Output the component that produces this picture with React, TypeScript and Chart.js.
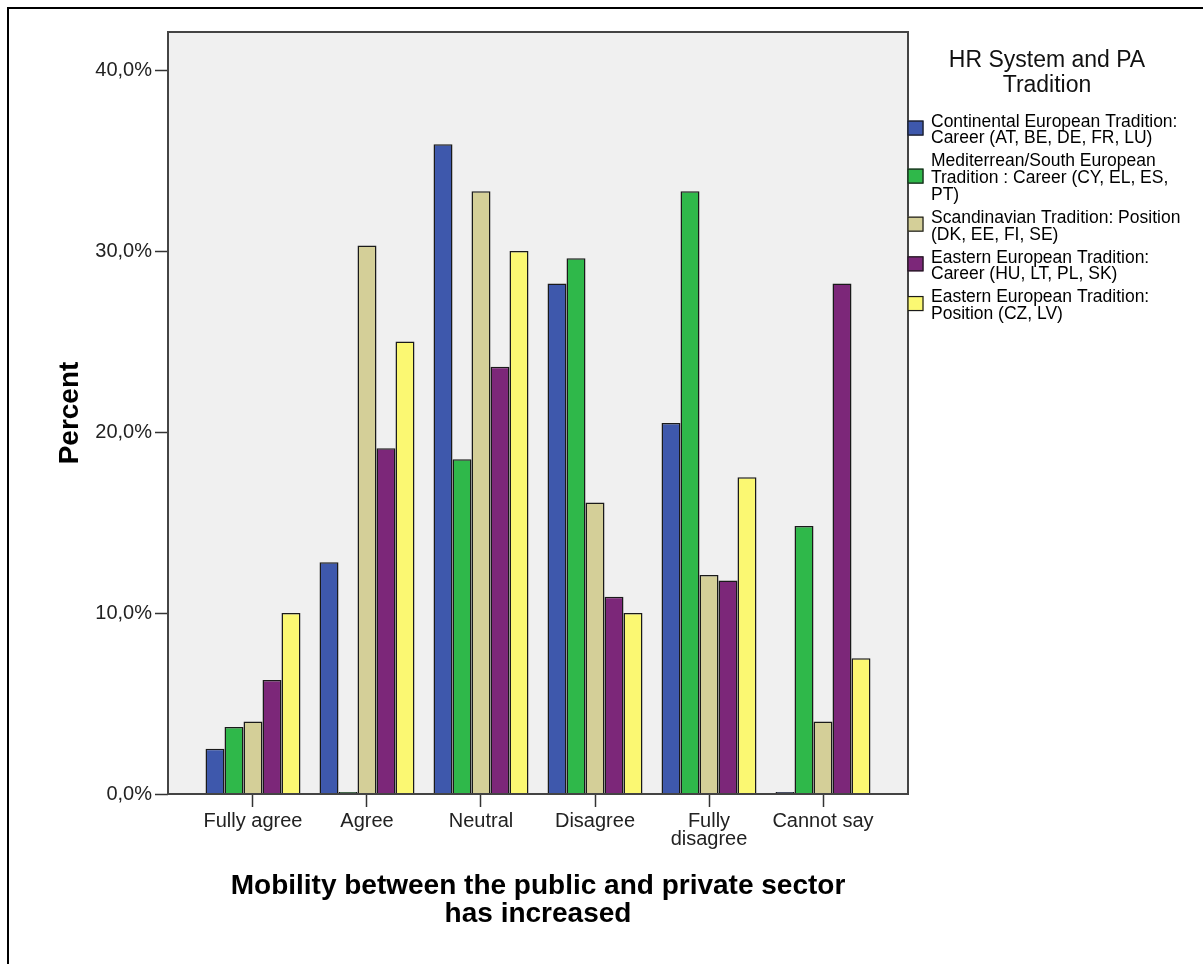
import React, { useEffect, useRef } from 'react';
import { Chart, registerables, CategoryScale } from 'chart.js';

Chart.register(...registerables);

class PaddedCategoryScale extends (CategoryScale as any) {
  static id = 'paddedCategory';
  static defaults = (CategoryScale as any).defaults;
  buildTicks() {
    const t = super.buildTicks();
    const pad = (this as any).options.edgePad || 0;
    (this as any)._startValue -= pad;
    (this as any)._valueRange += 2 * pad;
    return t;
  }
}
Chart.register(PaddedCategoryScale as any);

const FONT = '"Liberation Sans", Arial, sans-serif';

// ---- data ----
const categories: (string | string[])[] = [
  'Fully agree',
  'Agree',
  'Neutral',
  'Disagree',
  ['Fully', 'disagree'],
  'Cannot say',
];

const continentalCareer = [2.5, 12.8, 35.9, 28.2, 20.5, 0];
const mediterraneanCareer = [3.7, 0, 18.5, 29.6, 33.3, 14.8];
const scandinavianPosition = [4.0, 30.3, 33.3, 16.1, 12.1, 4.0];
const easternCareer = [6.3, 19.1, 23.6, 10.9, 11.8, 28.2];
const easternPosition = [10.0, 25.0, 30.0, 10.0, 17.5, 7.5];

const seriesLabels: string[][] = [
  ['Continental European Tradition:', 'Career (AT, BE, DE, FR, LU)'],
  ['Mediterrean/South European', 'Tradition : Career (CY, EL, ES,', 'PT)'],
  ['Scandinavian Tradition: Position', '(DK, EE, FI, SE)'],
  ['Eastern European Tradition:', 'Career (HU, LT, PL, SK)'],
  ['Eastern European Tradition:', 'Position (CZ, LV)'],
];
const seriesValues = [
  continentalCareer,
  mediterraneanCareer,
  scandinavianPosition,
  easternCareer,
  easternPosition,
];
const seriesColors = ['#3e58ac', '#2fb84a', '#d4cf98', '#7c2779', '#fbf872'];

const yTicks = [0, 10, 20, 30, 40];
const yMax = 42.1;
const legendTitle = ['HR System and PA', 'Tradition'];
const xTitle = ['Mobility between the public and private sector', 'has increased'];
const yTitle = 'Percent';

const decorPlugin = {
  id: 'decor',
  beforeDraw(chart: any) {
    const { ctx, chartArea: a } = chart;
    ctx.save();
    ctx.fillStyle = '#ffffff';
    ctx.fillRect(0, 0, chart.width, chart.height);
    ctx.fillStyle = '#f0f0f0';
    ctx.fillRect(a.left, a.top, a.right - a.left, a.bottom - a.top);
    ctx.restore();
  },
  afterDatasetsDraw(chart: any) {
    const { ctx, chartArea: a } = chart;
    ctx.save();
    ctx.strokeStyle = '#444444';
    ctx.lineWidth = 2;
    ctx.strokeRect(a.left, a.top, a.right - a.left, a.bottom - a.top);
    ctx.restore();
  },
  afterDraw(chart: any) {
    const { ctx, chartArea: a } = chart;
    ctx.save();
    // outer frame
    ctx.fillStyle = '#000';
    ctx.fillRect(7, 7, 2, chart.height - 7);
    ctx.fillRect(7, 7, chart.width - 7, 2);

    // legend title
    const cx = a.right + 139;
    ctx.fillStyle = '#111';
    ctx.font = `23px ${FONT}`;
    ctx.textAlign = 'center';
    ctx.textBaseline = 'alphabetic';
    ctx.fillText(legendTitle[0], cx, 66.7);
    ctx.fillText(legendTitle[1], cx, 91.7);

    // legend items
    const LH = 16.7;
    const GAP = 6.3;
    const textX = a.right + 23;
    const boxX = a.right - 0.5;
    let base = 126.7;
    ctx.textAlign = 'left';
    ctx.font = `17.5px ${FONT}`;
    chart.data.datasets.forEach((ds: any, i: number) => {
      const lines: string[] = seriesLabels[i];
      ctx.fillStyle = '#000';
      lines.forEach((ln, j) => ctx.fillText(ln, textX, base + j * LH));
      const last = base + (lines.length - 1) * LH;
      const cy = (base + last) / 2 - 7;
      ctx.fillStyle = ds.backgroundColor;
      ctx.fillRect(boxX, cy - 7.5, 16, 15);
      ctx.strokeStyle = '#1a1a1a';
      ctx.lineWidth = 1.2;
      ctx.strokeRect(boxX + 0.5, cy - 7, 15, 14);
      base += lines.length * LH + GAP;
    });
    ctx.restore();
  },
};

export default function App() {
  const ref = useRef<HTMLCanvasElement | null>(null);

  useEffect(() => {
    document.body.style.margin = '0';
    const canvas = ref.current;
    if (!canvas) return;
    const chart = new Chart(canvas, {
      type: 'bar',
      data: {
        labels: categories as any,
        datasets: seriesValues.map((vals, i) => ({
          label: seriesLabels[i].join(' '),
          data: vals,
          backgroundColor: seriesColors[i],
          borderColor: '#1a1a1a',
          borderWidth: 1.5,
          minBarLength: 2,
        })),
      },
      options: {
        responsive: false,
        animation: false,
        devicePixelRatio: 1,
        layout: { padding: { left: 0, top: 32, right: 295, bottom: 0 } },
        categoryPercentage: 0.833,
        barPercentage: 1.0,
        plugins: {
          legend: { display: false },
          tooltip: { enabled: false },
          title: { display: false },
        },
        scales: {
          x: {
            type: 'paddedCategory' as any,
            edgePad: 0.2456,
            offset: true,
            border: { display: false },
            grid: {
              display: true,
              offset: false,
              drawOnChartArea: false,
              drawTicks: true,
              tickLength: 13,
              tickColor: '#333',
              tickWidth: 1.5,
            },
            ticks: {
              autoSkip: false,
              maxRotation: 0,
              minRotation: 0,
              padding: 5,
              color: '#222',
              font: { family: FONT, size: 20, lineHeight: '18px' },
              callback: function (this: any, v: any) {
                return categories[v as number] as any;
              },
            },
            title: {
              display: true,
              text: xTitle,
              color: '#000',
              font: { family: FONT, size: 28, weight: 'bold', lineHeight: '28px' },
              padding: { top: 0, bottom: 36 },
            },
            afterFit: (s: any) => {
              s.height = 170;
            },
          } as any,
          y: {
            min: 0,
            max: yMax,
            border: { display: false },
            grid: {
              display: true,
              drawOnChartArea: false,
              drawTicks: true,
              tickLength: 13,
              tickColor: '#333',
              tickWidth: 1.5,
            },
            ticks: {
              includeBounds: false,
              padding: 3,
              color: '#222',
              font: { family: FONT, size: 20 },
              callback: (v: any) => Number(v).toFixed(1).replace('.', ',') + '%',
            },
            afterBuildTicks: (s: any) => {
              s.ticks = yTicks.map((v) => ({ value: v }));
            },
            title: {
              display: true,
              text: yTitle,
              color: '#000',
              font: { family: FONT, size: 28, weight: 'bold', lineHeight: '28px' },
              padding: { top: 56, bottom: 0 },
            },
            afterFit: (s: any) => {
              s.width = 168;
            },
          } as any,
        },
      } as any,
      plugins: [decorPlugin],
    });
    return () => chart.destroy();
  }, []);

  return (
    <div style={{ width: 1203, height: 964 }}>
      <canvas ref={ref} width={1203} height={964} style={{ display: 'block' }} />
    </div>
  );
}
